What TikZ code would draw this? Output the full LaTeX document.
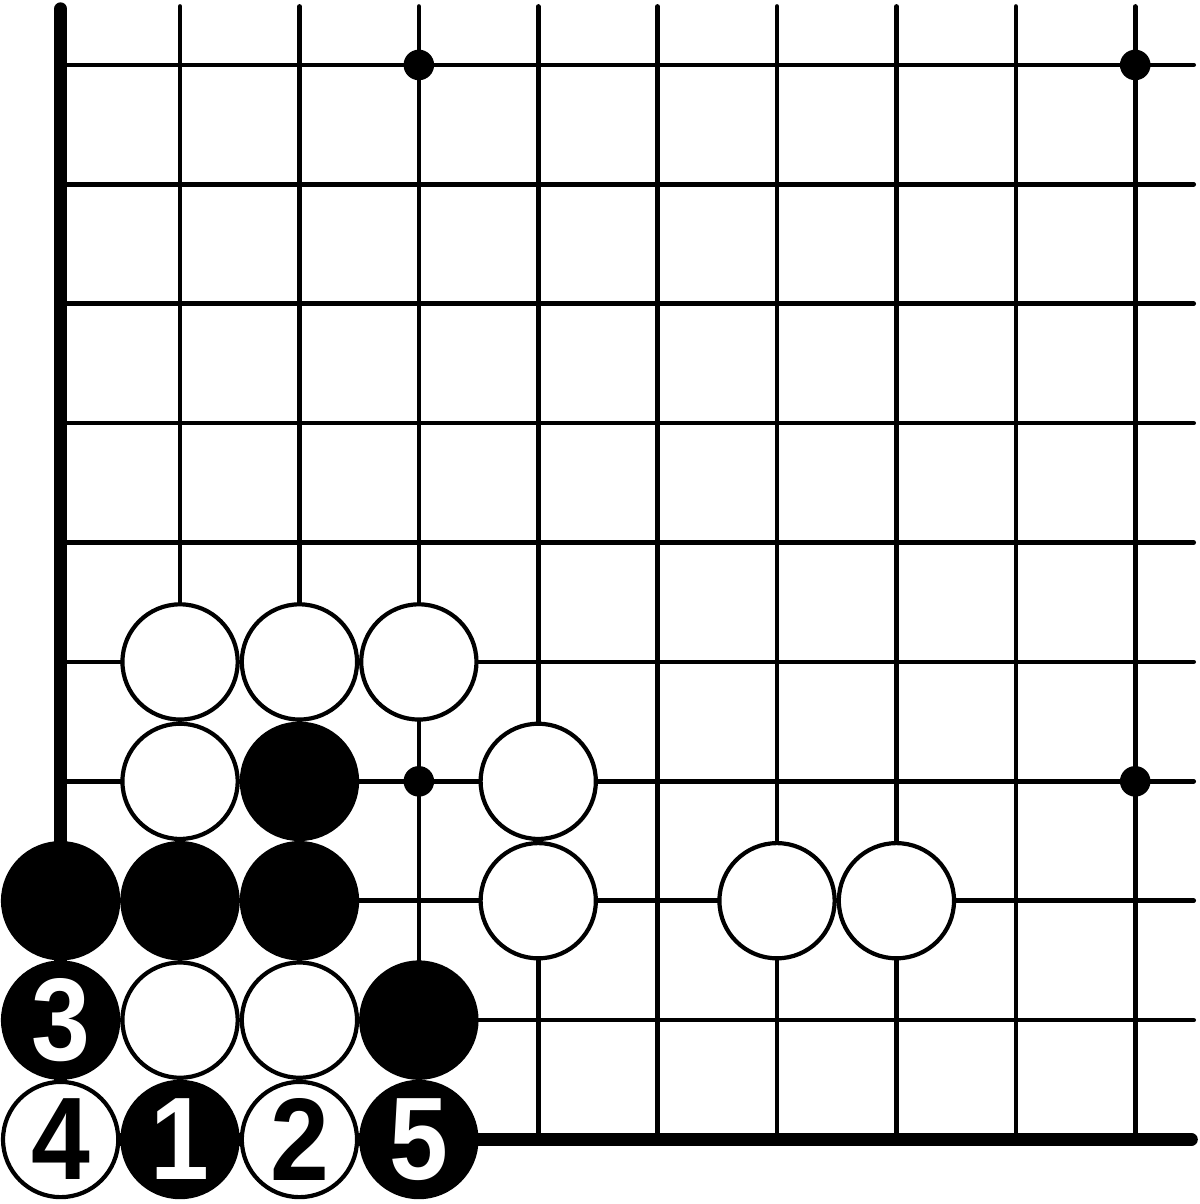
\documentclass[tikz,border=0pt]{standalone}
\usepackage{fontspec}
\newfontfamily\stonefont{Liberation Sans}[FakeStretch=0.9]
\begin{document}
\begin{tikzpicture}[line cap=round,color=black,
    gridline/.style={line width=1.1pt},
    edgeline/.style={line width=3.1pt},
    wstone/.style={circle,draw=black,fill=white,line width=1pt,
      minimum size=0.965cm,inner sep=0pt,
      font=\stonefont\bfseries\fontsize{28}{28}\selectfont},
    bstone/.style={wstone,fill=black,text=white}]
      \useasboundingbox(-0.508,-0.540)rectangle(9.542,9.544);
      \begin{scope}[shift={(0,0)}]
        \foreach \x in {1,...,9}{
          \draw[gridline](\x,0)--(\x,9.49);
        }
        \foreach \y in {1,...,9}{
          \draw[gridline](0,\y)--(9.49,\y);
        }
        \draw[edgeline](0,9.47)--(0,0)--(9.47,0);
        \foreach \x in {3,9}{
          \foreach \y in {3,9}{
            \fill(\x,\y)circle(0.128);
          }
        }
        \foreach \x/\y in {1/4,2/4,3/4,1/3,4/3,4/2,6/2,7/2,1/1,2/1}{
          \node[wstone](w\x\y) at (\x,\y){};
        }
        \foreach \x/\y in {2/3,0/2,1/2,2/2,3/1}{
          \node[bstone](b\x\y) at (\x,\y){};
        }
        \node[bstone](m3) at (0,1){3};
        \node[wstone](m4) at (0,0){4};
        \node[bstone](m1) at (1,0){1};
        \node[wstone](m2) at (2,0){2};
        \node[bstone](m5) at (3,0){5};
      \end{scope}
    \end{tikzpicture}
\end{document}
